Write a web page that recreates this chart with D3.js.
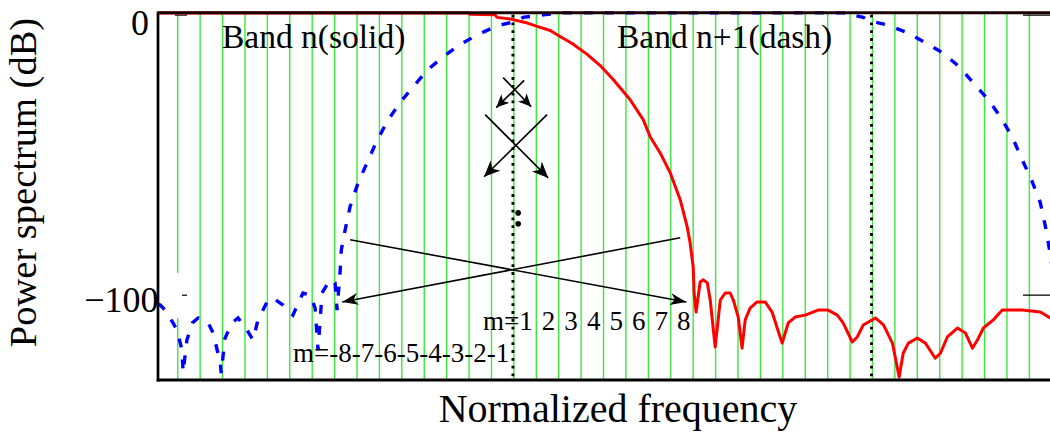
<!DOCTYPE html>
<html><head><meta charset="utf-8">
<script src="https://cdn.jsdelivr.net/npm/d3@7/dist/d3.min.js"></script>
<style>
html,body{margin:0;padding:0;background:#fff;}
svg{display:block;}
text{font-family:"Liberation Serif","Times New Roman",serif;fill:#000;}
</style></head><body>
<svg id="chart" width="1050" height="435"></svg>
<script>
// ---------- data ----------
// subcarrier grid (normalized frequency, in subcarrier spacings; band n centre = 0)
const subcarriers = d3.range(-15, 24);
const bandCenters = [0, 16];
const yTicks = [0, -100];
const yTickLabels = ["0", "\u2212100"];

// Band n (solid red)
const bandNFreq = [-16, -2.04, -1.95, -0.84, -0.75, -0.08, 0.5, 1.04, 1.62, 2.06, 2.6, 3.27, 3.85, 4.43, 5.18, 5.77, 6.08, 6.52, 6.97, 7.42, 7.73, 7.86, 8.0, 8.04, 8.13, 8.31, 8.45, 8.63, 8.76, 8.98, 9.21, 9.43, 9.65, 9.79, 10.01, 10.18, 10.32, 10.54, 10.85, 11.21, 11.52, 11.88, 11.97, 12.24, 12.55, 13.0, 13.57, 14.02, 14.43, 14.69, 15.1, 15.32, 15.59, 16.13, 16.49, 16.89, 17.19, 17.37, 17.6, 18.0, 18.36, 18.8, 19.03, 19.34, 19.79, 20.15, 20.46, 20.68, 20.95, 21.39, 21.79, 22.68, 23.49, 23.93, 24.3];
const bandNDb = [0, 0, -0.5, -0.7, -1.6, -2.3, -3.4, -4.8, -6.3, -8.4, -10.9, -14.8, -18.8, -23.8, -30.9, -38.1, -44.2, -49.9, -57.0, -66.7, -76.3, -82.0, -90.7, -100, -106.8, -96.1, -95.3, -96.4, -102.5, -119.3, -102.5, -100, -100, -102.5, -108.6, -119.7, -109.6, -105.4, -103.2, -103.2, -106.8, -115.7, -117.9, -110.7, -108.6, -107.9, -106.1, -106.1, -107.9, -110.7, -117.5, -115.7, -111.4, -108.9, -111.4, -117.9, -130.0, -121.5, -117.9, -116.1, -117.9, -123.3, -121.5, -115.7, -112.5, -114.3, -119.7, -116.8, -112.5, -109.6, -106.1, -106.1, -106.8, -108.9, -109.6];

// Band n+1 (dashed blue)
const bandN1Freq = [-15.9, -15.78, -15.56, -15.21, -15.03, -14.81, -14.76, -14.59, -14.35, -14.09, -13.64, -13.42, -13.1, -13.06, -12.89, -12.58, -12.31, -11.91, -11.64, -11.42, -10.97, -10.75, -10.3, -9.86, -9.41, -9.09, -8.87, -8.74, -8.56, -8.21, -7.98, -7.89, -7.75, -7.7, -7.53, -7.31, -6.95, -6.55, -6.19, -5.66, -5.08, -4.49, -3.83, -3.2, -2.4, -1.6, -0.71, 0.14, 0.41, 1.3, 2.06, 14.69, 15.59, 15.81, 16.57, 17.55, 18.26, 19.11, 19.91, 20.49, 21.16, 21.7, 22.23, 22.68, 23.13, 23.49, 23.72, 23.9, 24.07];
const bandN1Db = [-104, -104.3, -106.1, -110.7, -113.2, -120.4, -128.3, -116.8, -110.7, -108.9, -110.7, -114.3, -125.0, -128.6, -116.1, -110.7, -108.9, -113.2, -116.8, -109.6, -102.5, -101.8, -104.3, -107.9, -100, -100.7, -105.4, -120.4, -100, -95.3, -96.4, -106.1, -91.8, -84.6, -77.5, -69.2, -60.6, -53.5, -47.0, -38.8, -32.0, -26.3, -20.2, -15.9, -11.3, -7.7, -4.5, -3.0, -1.6, -0.7, 0, 0, -1.6, -2.7, -4.1, -7.0, -10.2, -14.1, -19.5, -24.9, -30.9, -37.0, -44.2, -52.4, -60.3, -67.8, -76.4, -84.6, -93.6];

// annotation arrows [fromFreq, fromDb, toFreq, toDb]
const arrowsBig = [[-7.31, -81.0, 7.69, -103.2], [7.42, -80.3, -7.66, -103.2]];
const arrowsMid = [[-1.28, -36.3, 1.53, -58.9], [1.48, -36.3, -1.33, -58.5]];
const arrowsSmall = [[-0.48, -23.1, 0.77, -33.5], [0.46, -24.1, -0.79, -33.8]];
const ellipsisDots = [[0.19, -71.4], [0.19, -75.3]];

const labelBandN = "Band n(solid)";
const labelBandN1 = "Band n+1(dash)";
const labelMPos = "m=1 2 3 4 5 6 7 8";
const labelMNeg = "m=-8-7-6-5-4-3-2-1";
const xTitle = "Normalized frequency";
const yTitle = "Power spectrum (dB)";

// ---------- drawing ----------
const svg = d3.select("#chart");
const L = 158, T = 12.7, B = 380, R = 1085.4;
const x = d3.scaleLinear().domain([-15.88, 25.5]).range([L, R]);
const y = d3.scaleLinear().domain([-131.06, 0]).range([B, 12.9]);

svg.append("defs").append("clipPath").attr("id", "plotclip")
  .append("rect").attr("x", L).attr("y", 0).attr("width", R - L).attr("height", B);

// green subcarrier grid
svg.append("g").selectAll("line").data(subcarriers).join("line")
  .attr("x1", d => x(d)).attr("x2", d => x(d))
  .attr("y1", T).attr("y2", B)
  .attr("stroke", "#3aea3a").attr("stroke-width", 1.4);

// inner tick marks
const tickG = svg.append("g");
tickG.selectAll("line.l").data(yTicks).join("line").attr("class", "l")
  .attr("x1", 175).attr("x2", 187)
  .attr("y1", d => y(d) + 2.2).attr("y2", d => y(d) + 2.2)
  .attr("stroke", "#000").attr("stroke-width", 1.2);
tickG.selectAll("line.r").data(yTicks).join("line").attr("class", "r")
  .attr("x1", 1023).attr("x2", 1060)
  .attr("y1", d => y(d) + 2.2).attr("y2", d => y(d) + 2.2)
  .attr("stroke", "#000").attr("stroke-width", 1.2);

// white patch near the -100 label
svg.append("rect").attr("x", 161).attr("y", 273).attr("width", 21).attr("height", 45).attr("fill", "#fff");

// dotted band centre lines
svg.append("g").selectAll("line").data(bandCenters).join("line")
  .attr("x1", d => x(d) - 1).attr("x2", d => x(d) - 1)
  .attr("y1", T + 2).attr("y2", B)
  .attr("stroke", "#000").attr("stroke-width", 2.8).attr("stroke-dasharray", "2.8,5");

const line = d3.line().x(d => x(d[0])).y(d => y(d[1]));
const plotG = svg.append("g").attr("clip-path", "url(#plotclip)");
plotG.append("path").datum(bandNFreq.map((f, i) => [f, bandNDb[i]]))
  .attr("d", line).attr("fill", "none").attr("stroke", "#ff0000")
  .attr("stroke-width", 3).attr("stroke-linejoin", "round");
plotG.append("path").datum(bandN1Freq.map((f, i) => [f, bandN1Db[i]]))
  .attr("d", line).attr("fill", "none").attr("stroke", "#0000ff")
  .attr("stroke-width", 3.4).attr("stroke-dasharray", "9,12");

// arrow markers
const defs = svg.select("defs");
function marker(id, len, half) {
  defs.append("marker").attr("id", id).attr("markerUnits", "userSpaceOnUse")
    .attr("viewBox", `${-len} ${-half} ${len + 1} ${2 * half}`)
    .attr("refX", 0).attr("refY", 0)
    .attr("markerWidth", len + 1).attr("markerHeight", 2 * half)
    .attr("orient", "auto")
    .append("path").attr("d", `M0,0 L${-len},${-half} L${-len * 0.72},0 L${-len},${half} Z`).attr("fill", "#000");
}
marker("headBig", 16, 6);
marker("headMid", 16, 7);
marker("headSmall", 13, 6);
function drawArrows(data, head) {
  svg.append("g").selectAll("line").data(data).join("line")
    .attr("x1", d => x(d[0])).attr("y1", d => y(d[1]))
    .attr("x2", d => x(d[2])).attr("y2", d => y(d[3]))
    .attr("stroke", "#000").attr("stroke-width", 1.6)
    .attr("marker-end", `url(#${head})`);
}
drawArrows(arrowsBig, "headBig");
drawArrows(arrowsMid, "headMid");
drawArrows(arrowsSmall, "headSmall");
svg.append("g").selectAll("circle").data(ellipsisDots).join("circle")
  .attr("cx", d => x(d[0])).attr("cy", d => y(d[1])).attr("r", 2.8).attr("fill", "#000");

// frame
svg.append("line").attr("x1", L).attr("x2", L).attr("y1", T - 1.3).attr("y2", B + 1.5)
  .attr("stroke", "#000").attr("stroke-width", 2.7);
svg.append("line").attr("x1", L).attr("x2", 1060).attr("y1", T).attr("y2", T)
  .attr("stroke", "#1a0000").attr("stroke-width", 2.9);
svg.append("line").attr("x1", L - 1.3).attr("x2", 1060).attr("y1", B).attr("y2", B)
  .attr("stroke", "#000").attr("stroke-width", 3);

// tick labels
svg.append("g").selectAll("text").data(yTicks).join("text")
  .attr("x", (d, i) => i === 0 ? 149 : 158.5)
  .attr("y", d => y(d))
  .attr("dy", (d, i) => i === 0 ? 22.5 : 18.5)
  .attr("text-anchor", "end").attr("font-size", 36)
  .text((d, i) => yTickLabels[i]);

// annotations
svg.append("text").attr("x", 222).attr("y", 48).attr("font-size", 33.5).text(labelBandN);
svg.append("text").attr("x", 617).attr("y", 48).attr("font-size", 33.5).text(labelBandN1);
svg.append("text").attr("x", 483).attr("y", 330).attr("font-size", 27)
  .attr("word-spacing", 2.3).text(labelMPos);
svg.append("text").attr("x", 293).attr("y", 362).attr("font-size", 27).text(labelMNeg);

// axis titles
svg.append("text").attr("x", 618).attr("y", 422).attr("text-anchor", "middle")
  .attr("font-size", 40).text(xTitle);
svg.append("text").attr("transform", "translate(36,182.5) rotate(-90)")
  .attr("text-anchor", "middle").attr("font-size", 38.5).text(yTitle);
</script>
</body></html>
